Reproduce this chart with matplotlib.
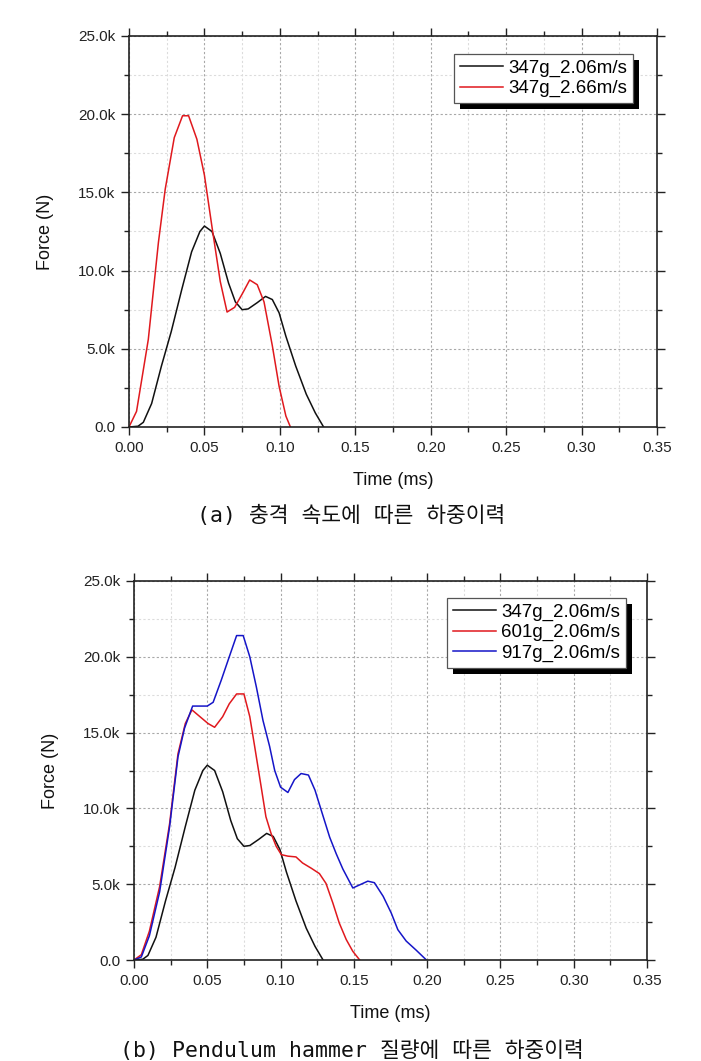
import matplotlib
matplotlib.use("Agg")
import matplotlib.pyplot as plt
from matplotlib.ticker import MultipleLocator, FuncFormatter
from matplotlib.patches import Rectangle

# ---------------- data (time in ms, force in kN) ----------------
black_t = [0, 0.006, 0.0095, 0.015, 0.0215, 0.028, 0.035, 0.0415, 0.047, 0.050,
           0.055, 0.0605, 0.066, 0.0705, 0.075, 0.079, 0.085, 0.0905, 0.095,
           0.0995, 0.104, 0.1105, 0.1175, 0.1235, 0.129]
black_f = [0, 0.05, 0.3, 1.5, 3.9, 6.1, 8.8, 11.2, 12.5, 12.85,
           12.5, 11.1, 9.2, 8.0, 7.5, 7.55, 7.95, 8.35, 8.15,
           7.3, 5.8, 3.9, 2.1, 0.9, 0]

red_a_t = [0, 0.005, 0.0128, 0.0195, 0.024, 0.030, 0.0355, 0.0395, 0.045, 0.050,
           0.055, 0.0605, 0.065, 0.070, 0.075, 0.080, 0.085, 0.0895, 0.095,
           0.0995, 0.104, 0.107]
red_a_f = [0, 1.0, 5.6, 11.8, 15.2, 18.5, 19.9, 19.9, 18.4, 16.1,
           12.8, 9.3, 7.35, 7.65, 8.5, 9.4, 9.1, 8.0, 5.2,
           2.6, 0.7, 0]

red_b_t = [0, 0.005, 0.0105, 0.0175, 0.0243, 0.030, 0.035, 0.0395, 0.045, 0.0505,
           0.055, 0.0605, 0.065, 0.070, 0.075, 0.079, 0.0823, 0.0868, 0.090,
           0.0935, 0.097, 0.1005, 0.105, 0.1105, 0.115, 0.121, 0.1265, 0.131,
           0.1357, 0.140, 0.1448, 0.1493, 0.154]
red_b_f = [0, 0.35, 1.9, 4.85, 9.0, 13.6, 15.6, 16.5, 16.05, 15.6,
           15.35, 16.05, 16.9, 17.55, 17.55, 16.05, 14.1, 11.4, 9.45,
           8.35, 7.5, 6.95, 6.85, 6.8, 6.4, 6.05, 5.7, 5.05,
           3.75, 2.45, 1.35, 0.57, 0]

blue_t = [0, 0.005, 0.0105, 0.0175, 0.0243, 0.030, 0.0345, 0.040, 0.045, 0.050,
          0.054, 0.0595, 0.065, 0.070, 0.0745, 0.079, 0.0835, 0.088, 0.0925,
          0.096, 0.100, 0.105, 0.1095, 0.114, 0.119, 0.1235, 0.128, 0.1335,
          0.138, 0.1425, 0.1493, 0.1595, 0.164, 0.170, 0.1755, 0.180, 0.1857,
          0.1925, 0.1995]
blue_f = [0, 0.2, 1.6, 4.5, 8.8, 13.4, 15.3, 16.75, 16.75, 16.75,
          17.0, 18.45, 20.0, 21.4, 21.4, 20.0, 18.0, 15.8, 14.1,
          12.5, 11.4, 11.05, 11.9, 12.3, 12.2, 11.2, 9.8, 8.1,
          7.0, 6.0, 4.75, 5.2, 5.1, 4.2, 3.1, 2.0, 1.25,
          0.65, 0]

labels_a = ["347g_2.06m/s", "347g_2.66m/s"]
labels_b = ["347g_2.06m/s", "601g_2.06m/s", "917g_2.06m/s"]
caption_a = "(a) 충격 속도에 따른 하중이력"
caption_b = "(b) Pendulum hammer 질량에 따른 하중이력"

C_BLACK = "#111111"
C_RED = "#e0191e"
C_BLUE = "#1515c8"

plt.rcParams['font.family'] = ['Liberation Sans', 'DejaVu Sans']

fig = plt.figure(figsize=(7.01, 10.61), dpi=100)
W, H = 701, 1061


def make_axes(l, r, t, b):
    return fig.add_axes([l / W, 1 - b / H, (r - l) / W, (b - t) / H])


def style(ax):
    ax.set_xlim(0, 0.35)
    ax.set_ylim(0, 25)
    ax.xaxis.set_major_locator(MultipleLocator(0.05))
    ax.xaxis.set_minor_locator(MultipleLocator(0.025))
    ax.yaxis.set_major_locator(MultipleLocator(5))
    ax.yaxis.set_minor_locator(MultipleLocator(2.5))
    ax.xaxis.set_major_formatter(FuncFormatter(lambda v, p: f"{v:.2f}"))
    ax.yaxis.set_major_formatter(
        FuncFormatter(lambda v, p: "0.0" if abs(v) < 1e-9 else f"{v:.1f}k"))
    ax.tick_params(which='both', direction='out', top=True, right=True,
                   labeltop=False, labelright=False, colors='#222222')
    ax.tick_params(which='major', length=6, width=1.0, labelsize=11, pad=4,
                   labelcolor='#222222')
    ax.tick_params(which='minor', length=3.5, width=1.0)
    for s in ax.spines.values():
        s.set_linewidth(1.2)
        s.set_color('#222222')
    ax.grid(which='major', linestyle=(0, (2, 2)), color='#a8a8a8', linewidth=0.8)
    ax.grid(which='minor', linestyle=(0, (2, 2)), color='#dcdcdc', linewidth=0.8)
    ax.set_axisbelow(True)
    ax.set_xlabel("Time (ms)", fontsize=13, labelpad=12, color='#111111')
    ax.set_ylabel("Force (N)", fontsize=13, labelpad=17, color='#111111')


def shadow_legend(ax, anchor):
    leg = ax.legend(loc='upper right', bbox_to_anchor=anchor, borderaxespad=0,
                    fontsize=13.5, frameon=True, fancybox=False, framealpha=1,
                    edgecolor='#555555', handlelength=2.3, handletextpad=0.3,
                    labelspacing=0.17, borderpad=0.3)
    leg.get_frame().set_linewidth(0.9)
    leg.set_zorder(6)
    return leg


# ---------------- panel (a) ----------------
ax1 = make_axes(129, 657, 36, 427)
style(ax1)
ax1.plot(black_t, black_f, color=C_BLACK, lw=1.1, label=labels_a[0])
ax1.plot(red_a_t, red_a_f, color=C_RED, lw=1.1, label=labels_a[1])
leg1 = shadow_legend(ax1, (0.9545, 0.954))

# ---------------- panel (b) ----------------
ax2 = make_axes(134, 647, 581, 960)
style(ax2)
ax2.plot(black_t, black_f, color=C_BLACK, lw=1.1, label=labels_b[0])
ax2.plot(red_b_t, red_b_f, color=C_RED, lw=1.1, label=labels_b[1])
ax2.plot(blue_t, blue_f, color=C_BLUE, lw=1.1, label=labels_b[2])
leg2 = shadow_legend(ax2, (0.959, 0.955))

# captions
cap_family = ['DejaVu Sans Mono', 'Noto Sans CJK KR']
fig.text(351 / W, 1 - 515 / H, caption_a, ha='center', va='center',
         fontsize=15.5, family=cap_family, color='#111111')
fig.text(352 / W, 1 - 1051 / H, caption_b, ha='center', va='center',
         fontsize=15.5, family=cap_family, color='#111111')

# legend shadows
fig.canvas.draw()
for ax, leg in ((ax1, leg1), (ax2, leg2)):
    bb = leg.get_window_extent()
    off = 6
    sb = bb.translated(off, -off).transformed(ax.transAxes.inverted())
    ax.add_patch(Rectangle((sb.x0, sb.y0), sb.width, sb.height,
                           transform=ax.transAxes, facecolor='black',
                           edgecolor='none', zorder=5.5, clip_on=False))

fig.savefig("out.png", dpi=100)
